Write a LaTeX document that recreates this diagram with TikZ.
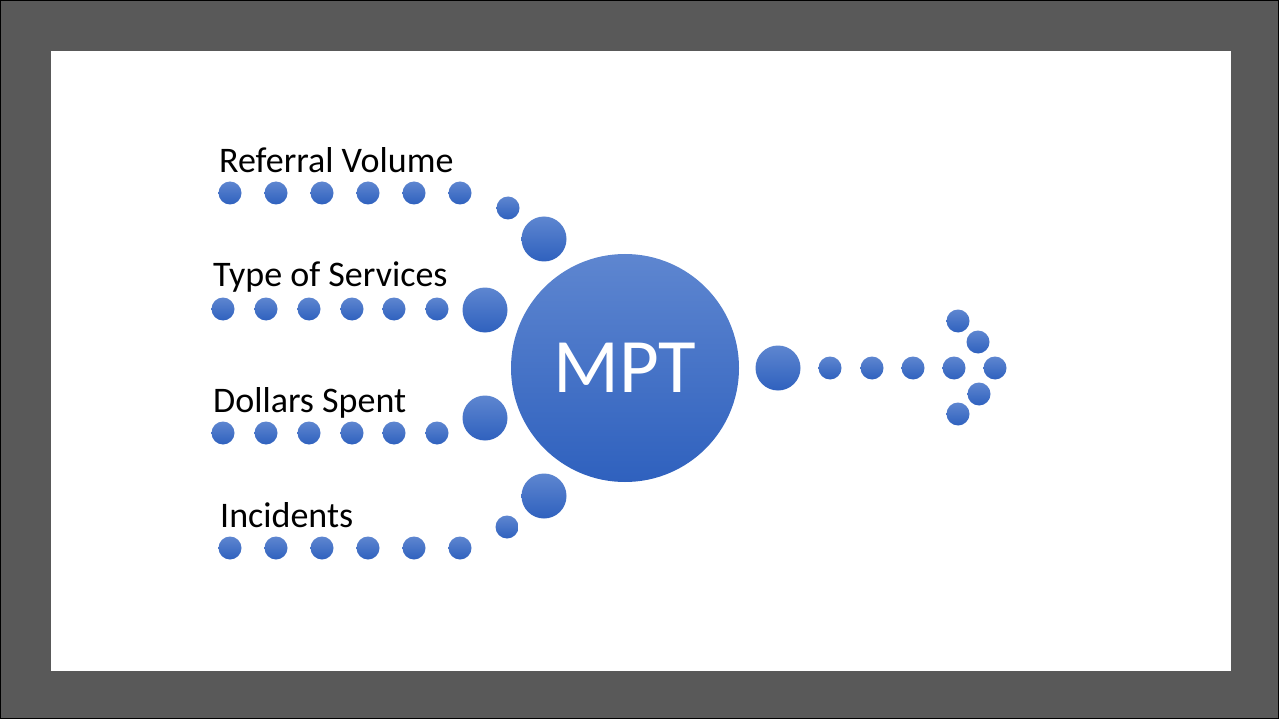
\documentclass[tikz,border=0pt]{standalone}
\usepackage{fontspec}
\setmainfont{Carlito}
\definecolor{framegray}{HTML}{595959}
\definecolor{mptlight}{RGB}{94,134,208}
\definecolor{mptdark}{RGB}{47,97,190}
\tikzset{
  dot/.style={circle, inner sep=0pt, minimum size=23pt, top color=mptlight, bottom color=mptdark},
  bigdot/.style={dot, minimum size=45pt},
  label/.style={anchor=base west, inner sep=0pt, font=\fontsize{36}{42}\selectfont}
}
\begin{document}
\begin{tikzpicture}[x=1pt,y=-1pt]
\useasboundingbox (0,0) rectangle (1279,719);
\fill[framegray] (0,0) rectangle (1279,719);
\draw[line width=2pt] (0,0) rectangle (1279,719);
\fill[white] (51,51) rectangle (1231,671);
% centre
\node[dot, minimum size=228pt, text=white, font=\fontsize{77}{82}\selectfont] (mpt) at (625,368) {MPT};
% referral volume
\node[label] (refl) at (219,173) {Referral Volume};
\node[dot] (r1) at (230,193) {};
\node[dot] (r2) at (276,193) {};
\node[dot] (r3) at (322,193) {};
\node[dot] (r4) at (368,193) {};
\node[dot] (r5) at (414,193) {};
\node[dot] (r6) at (460,193) {};
\node[dot] (r7) at (508,208) {};
\node[bigdot] (r8) at (544,239) {};
% type of services
\node[label] (typl) at (213,287) {Type of Services};
\node[dot] (t1) at (223,309) {};
\node[dot] (t2) at (266,309) {};
\node[dot] (t3) at (309,309) {};
\node[dot] (t4) at (352,309) {};
\node[dot] (t5) at (394,309) {};
\node[dot] (t6) at (437,309) {};
\node[bigdot] (t7) at (485,310) {};
% dollars spent
\node[label] (doll) at (213,412) {Dollars Spent};
\node[dot] (d1) at (223,433) {};
\node[dot] (d2) at (266,433) {};
\node[dot] (d3) at (309,433) {};
\node[dot] (d4) at (352,433) {};
\node[dot] (d5) at (394,433) {};
\node[dot] (d6) at (437,433) {};
\node[bigdot] (d7) at (485,418) {};
% incidents
\node[label] (incl) at (220,527) {Incidents};
\node[dot] (i1) at (230,548) {};
\node[dot] (i2) at (276,548) {};
\node[dot] (i3) at (322,548) {};
\node[dot] (i4) at (368,548) {};
\node[dot] (i5) at (414,548) {};
\node[dot] (i6) at (460,548) {};
\node[dot] (i7) at (507,527) {};
\node[bigdot] (i8) at (544,496) {};
% output arrow
\node[bigdot] (o1) at (778,368) {};
\node[dot] (o2) at (830,368) {};
\node[dot] (o3) at (872,368) {};
\node[dot] (o4) at (913,368) {};
\node[dot] (o5) at (954,368) {};
\node[dot] (tip) at (995,368) {};
\node[dot] (up1) at (958,321) {};
\node[dot] (up2) at (978,342) {};
\node[dot] (lo2) at (979,394) {};
\node[dot] (lo1) at (958,414) {};
\end{tikzpicture}
\end{document}
